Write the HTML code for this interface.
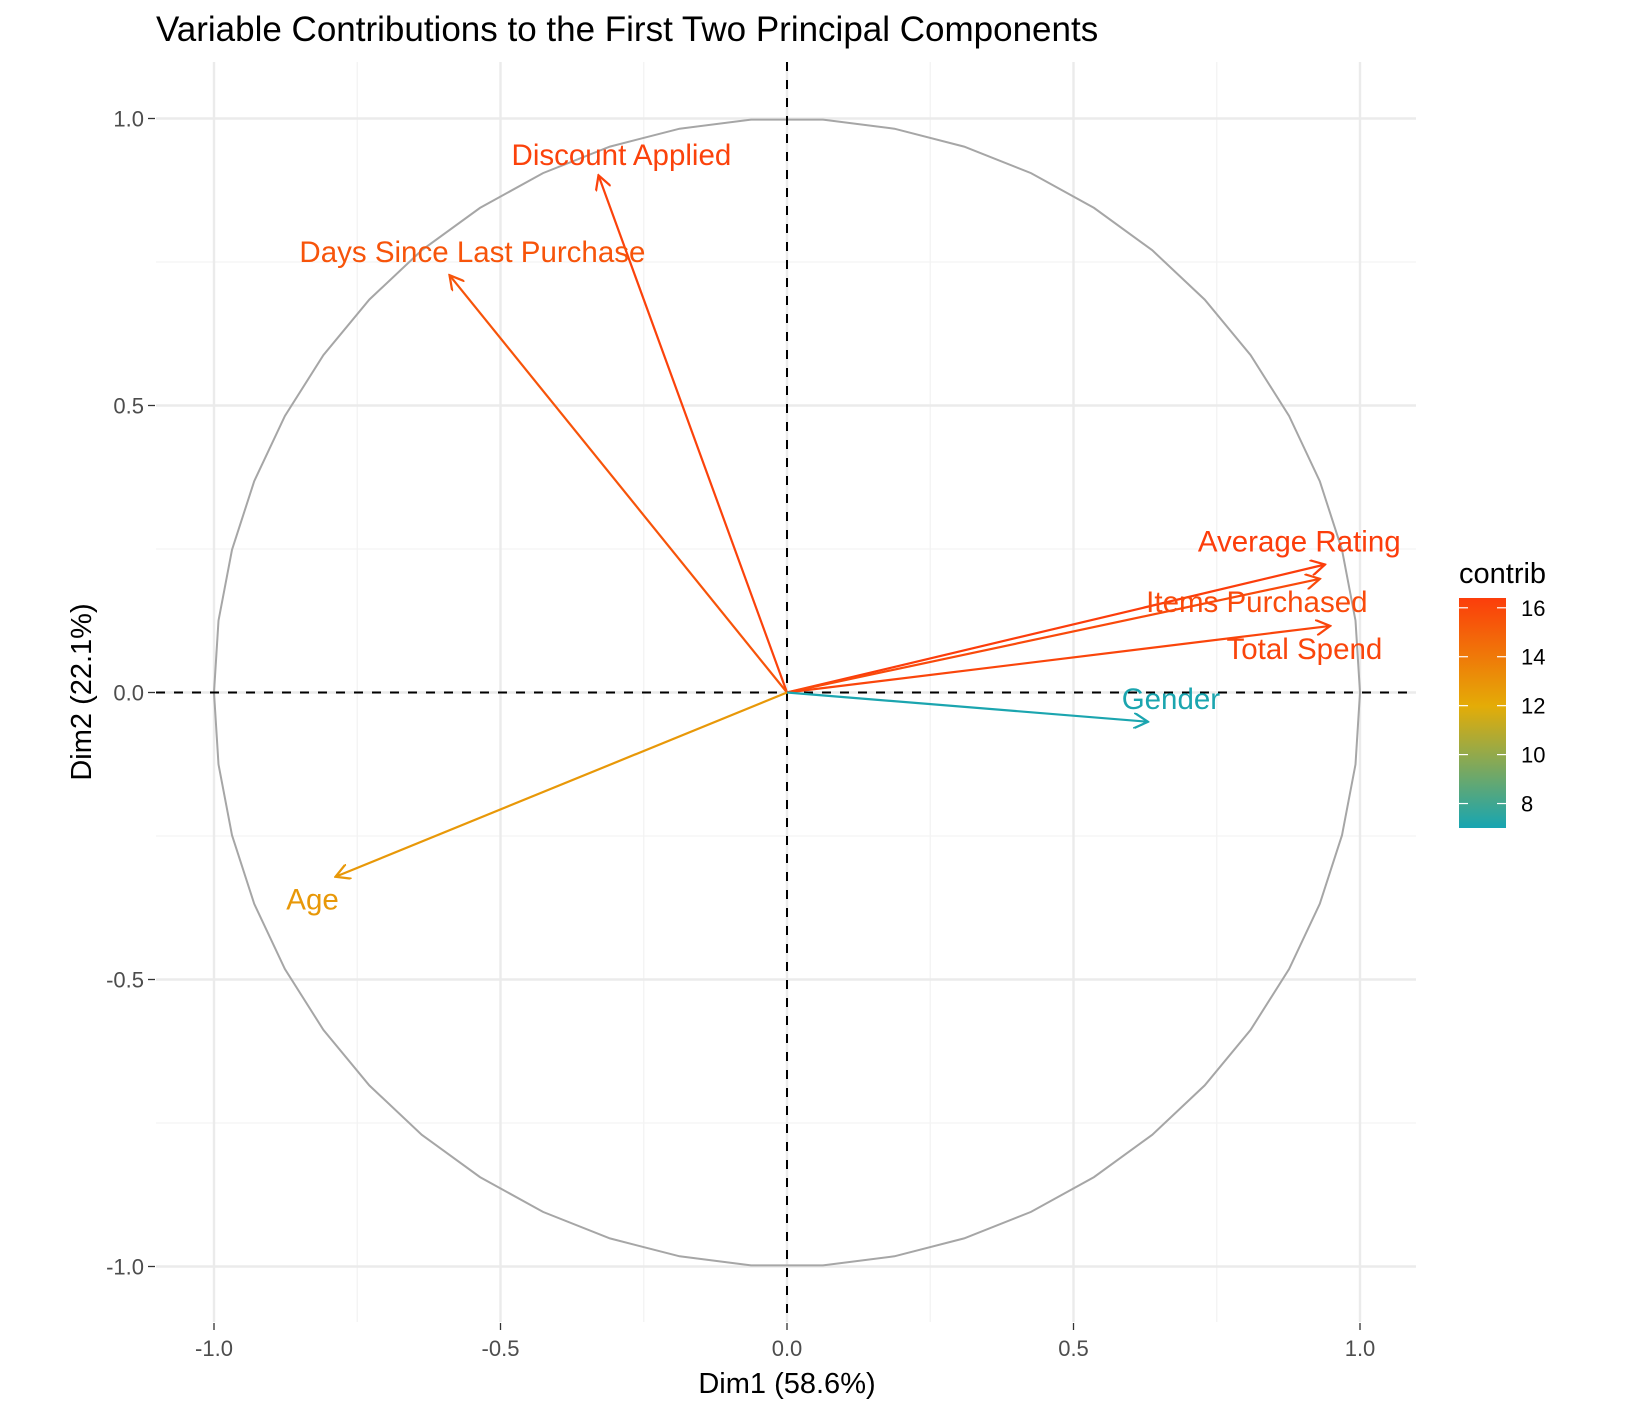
<!DOCTYPE html>
<html><head><meta charset="utf-8"><style>
body{margin:0;background:#fff}
svg{display:block;font-family:"Liberation Sans",Arial,sans-serif}
</style></head><body>
<svg id="c" width="1630" height="1406">
<defs>
<linearGradient id="lg" x1="0" y1="1" x2="0" y2="0">
<stop offset="0" stop-color="#17A5B2"/><stop offset="0.53" stop-color="#E4AC07"/><stop offset="1" stop-color="#FC3D0B"/>
</linearGradient>
<marker id="ah" viewBox="0 0 10 10" refX="9" refY="5" markerWidth="16" markerHeight="16" markerUnits="userSpaceOnUse" orient="auto"><path d="M0,0 L9,5 L0,10" fill="none" stroke="context-stroke" stroke-width="1.4"/></marker>
</defs>
<text x="156" y="41" font-size="35" fill="#000">Variable Contributions to the First Two Principal Components</text>
</svg>
<script>
const variables=["Discount Applied","Days Since Last Purchase","Average Rating","Items Purchased","Total Spend","Gender","Age"];
const dim1=[-0.329,-0.589,0.939,0.930,0.948,0.630,-0.788];
const dim2=[0.901,0.727,0.223,0.198,0.116,-0.051,-0.321];
const contrib=[16.2,15.5,16.4,15.9,16.1,7.1,12.8];
const labelDx=[0.04,0.04,-0.045,-0.11,-0.045,0.04,-0.04];
const labelDy=[0.035,0.04,0.04,-0.04,-0.04,0.04,-0.04];
const axisTicks=[-1.0,-0.5,0.0,0.5,1.0];
const minorTicks=[-0.75,-0.25,0.25,0.75];
const legendTicks=[8,10,12,14,16];

const svg=document.getElementById('c');
const NS='http://www.w3.org/2000/svg';
const X=v=>787+v*573;
const Y=v=>692.5-v*574;
const L=v=>828-(v-7.0)/(16.4-7.0)*230;
function mk(t,a,p){const e=document.createElementNS(NS,t);for(const k in a)e.setAttribute(k,a[k]);(p||svg).appendChild(e);return e;}
function hex(c){return [parseInt(c.slice(1,3),16),parseInt(c.slice(3,5),16),parseInt(c.slice(5,7),16)];}
function col(v){const a=hex('#17A5B2'),m=hex('#E4AC07'),b=hex('#FC3D0B');let t,c1,c2;
 if(v<12){t=(v-7)/5;c1=a;c2=m;}else{t=(v-12)/4.4;c1=m;c2=b;}t=Math.max(0,Math.min(1,t));
 return 'rgb('+c1.map((x,i)=>Math.round(x+(c2[i]-x)*t)).join(',')+')';}
const x0=156,x1=1416,y0=62,y1=1322;
minorTicks.forEach(v=>{
 let e=mk('line',{x1:X(v),x2:X(v),y1:y0,y2:y1,stroke:'#F3F3F3','stroke-width':1.3});
 
 e=mk('line',{x1:x0,x2:x1,y1:Y(v),y2:Y(v),stroke:'#F3F3F3','stroke-width':1.3});
 
});
axisTicks.forEach(v=>{
 let e=mk('line',{x1:X(v),x2:X(v),y1:y0,y2:y1,stroke:'#EBEBEB','stroke-width':2.4});
 
 e=mk('line',{x1:x0,x2:x1,y1:Y(v),y2:Y(v),stroke:'#EBEBEB','stroke-width':2.4});
 
 e=mk('line',{x1:148,x2:155,y1:Y(v),y2:Y(v),stroke:'#333','stroke-width':1.3});
 
 e=mk('line',{x1:X(v),x2:X(v),y1:1323,y2:1330,stroke:'#333','stroke-width':1.3});
 
 e=mk('text',{x:144,y:Y(v)+8,'font-size':22,'text-anchor':'end',fill:'#4D4D4D'});e.textContent=v.toFixed(1);
 
 e=mk('text',{x:X(v),y:1356,'font-size':22,'text-anchor':'middle',fill:'#4D4D4D'});e.textContent=v.toFixed(1);
 
});
let pts=[];for(let i=0;i<=50;i++){const a=Math.PI*2*i/50;pts.push(X(Math.cos(a)).toFixed(1)+','+Y(Math.sin(a)).toFixed(1));}
let circ=mk('polyline',{points:pts.join(' '),fill:'none',stroke:'#A6A6A6','stroke-width':2});

let h=mk('line',{x1:x0,x2:x1,y1:Y(0),y2:Y(0),stroke:'#000','stroke-width':2,'stroke-dasharray':'9,9'});

h=mk('line',{x1:X(0),x2:X(0),y1:y0,y2:y1,stroke:'#000','stroke-width':2,'stroke-dasharray':'9,9'});

variables.forEach((n,i)=>{
 const c=col(contrib[i]);
 let a=mk('line',{x1:X(0),y1:Y(0),x2:X(dim1[i]),y2:Y(dim2[i]),stroke:c,'stroke-width':2.2,'marker-end':'url(#ah)'});
 
 let t=mk('text',{x:X(dim1[i]+labelDx[i]),y:Y(dim2[i]+labelDy[i])+10,'font-size':29.5,'text-anchor':'middle',fill:c});t.textContent=n;
 
});
let t=mk('text',{x:787,y:1393,'font-size':29,'text-anchor':'middle',fill:'#000'});t.textContent='Dim1 (58.6%)';

t=mk('text',{x:0,y:0,'font-size':29,'text-anchor':'middle',fill:'#000',transform:'translate(91,692) rotate(-90)'});t.textContent='Dim2 (22.1%)';

t=mk('text',{x:1459,y:583,'font-size':29,fill:'#000'});t.textContent='contrib';

let r=mk('rect',{x:1459,y:598,width:47,height:230,fill:'url(#lg)'});

legendTicks.forEach(v=>{
 let e=mk('line',{x1:1459,x2:1468,y1:L(v),y2:L(v),stroke:'#fff','stroke-width':1.2});
 
 e=mk('line',{x1:1497,x2:1506,y1:L(v),y2:L(v),stroke:'#fff','stroke-width':1.2});
 
 e=mk('text',{x:1521,y:L(v)+8,'font-size':22,fill:'#000'});e.textContent=v;
 
});
</script>
</body></html>
